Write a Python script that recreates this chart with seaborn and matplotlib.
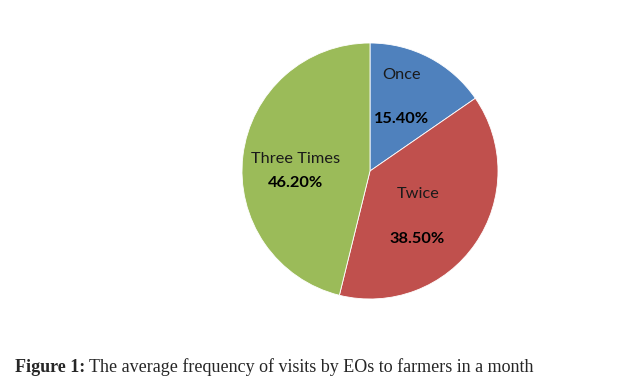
import matplotlib
matplotlib.use("Agg")
import matplotlib.pyplot as plt
import seaborn as sns

sns.set_theme(style="white")
plt.rcParams['font.family'] = ['Lato', 'DejaVu Sans']

categories = ["Once", "Twice", "Three Times"]
shares = [15.4, 38.5, 46.2]
pct_labels = ["15.40%", "38.50%", "46.20%"]
colors = ["#4F81BD", "#C0504D", "#9BBB59"]

# label offsets from pie centre, in radius units (name, percent)
name_pos = [(0.25, 0.75), (0.38, -0.18), (-0.58, 0.09)]
pct_pos = [(0.25, 0.41), (0.37, -0.53), (-0.58, -0.09)]

fig = plt.figure(figsize=(6.33, 3.82), dpi=100)
fig.patch.set_facecolor("white")
ax = fig.add_axes([242 / 633, 83 / 382, 256 / 633, 256 / 382])
ax.pie(shares, colors=colors, startangle=90, counterclock=False, radius=1,
       wedgeprops=dict(edgecolor="white", linewidth=0.6))
ax.set_xlim(-1, 1)
ax.set_ylim(-1, 1)
ax.axis("off")

for name, pct, (nx, ny), (px, py) in zip(categories, pct_labels, name_pos, pct_pos):
    ax.text(nx, ny, name, ha="center", va="center", fontsize=11.8, color="#1a1a1a")
    ax.text(px, py, pct, ha="center", va="center", fontsize=11.8,
            fontweight="bold", color="black")

# caption: bold "Figure 1:" followed by plain text
cap_y = 1 - 367 / 382
caption = fig.text(15 / 633, cap_y, "Figure 1:", fontsize=13,
                   family="Liberation Serif", fontweight="bold", va="center", ha="left")
fig.canvas.draw()
bb = caption.get_window_extent()
fig.text((bb.x1 + 4) / 633, cap_y,
         "The average frequency of visits by EOs to farmers in a month",
         fontsize=13, family="Liberation Serif", va="center", ha="left")

fig.savefig("out.png", dpi=100, facecolor="white")
